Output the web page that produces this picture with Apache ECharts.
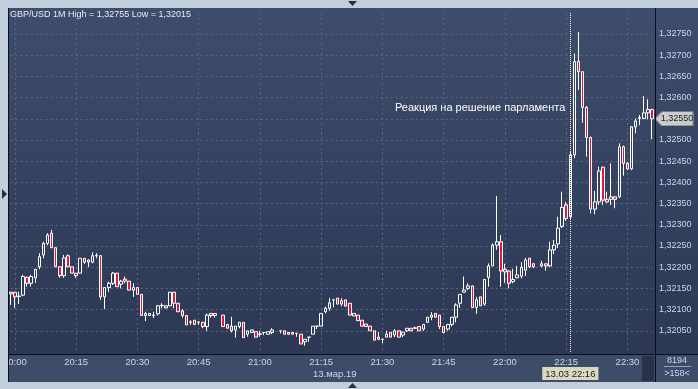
<!DOCTYPE html>
<html><head><meta charset="utf-8">
<script src="https://cdn.jsdelivr.net/npm/echarts@6/dist/echarts.min.js"></script>
<style>html,body{margin:0;padding:0;background:#c3cedc}#c{width:698px;height:389px}</style>
</head><body><div id="c"></div>
<script>
// ---- data ----
const times = [
'19:59',
'20:00','20:01','20:02','20:03','20:04','20:05','20:06','20:07','20:08','20:09',
'20:10','20:11','20:12','20:13','20:14','20:15','20:16','20:17','20:18','20:19',
'20:20','20:21','20:22','20:23','20:24','20:25','20:26','20:27','20:28','20:29',
'20:30','20:31','20:32','20:33','20:34','20:35','20:36','20:37','20:38','20:39',
'20:40','20:41','20:42','20:43','20:44','20:45','20:46','20:47','20:48','20:49',
'20:50','20:51','20:52','20:53','20:54','20:55','20:56','20:57','20:58','20:59',
'21:00','21:01','21:02','21:03','21:04','21:05','21:06','21:07','21:08','21:09',
'21:10','21:11','21:12','21:13','21:14','21:15','21:16','21:17','21:18','21:19',
'21:20','21:21','21:22','21:23','21:24','21:25','21:26','21:27','21:28','21:29',
'21:30','21:31','21:32','21:33','21:34','21:35','21:36','21:37','21:38','21:39',
'21:40','21:41','21:42','21:43','21:44','21:45','21:46','21:47','21:48','21:49',
'21:50','21:51','21:52','21:53','21:54','21:55','21:56','21:57','21:58','21:59',
'22:00','22:01','22:02','22:03','22:04','22:05','22:06','22:07','22:08','22:09',
'22:10','22:11','22:12','22:13','22:14','22:15','22:16','22:17','22:18','22:19',
'22:20','22:21','22:22','22:23','22:24','22:25','22:26','22:27','22:28','22:29',
'22:30','22:31','22:32','22:33','22:34','22:35','22:36'
];
const tickLabels = ['20:00','20:15','20:30','20:45','21:00','21:15','21:30','21:45','22:00','22:15','22:30'];
// [open, close, low, high]; null = no bar
const ohlc = [
[1.32137,1.32141,1.32111,1.32142],
[1.32141,1.32130,1.32104,1.32142],[1.32131,1.32132,1.32113,1.32142],[1.32134,1.32178,1.32132,1.32182],
[1.32176,1.32162,1.32154,1.32178],[1.32162,1.32178,1.32154,1.32182],[1.32175,1.32195,1.32163,1.32196],
[1.32201,1.32225,1.32195,1.32233],[1.32229,1.32256,1.32221,1.32260],[1.32256,1.32276,1.32252,1.32280],
[1.32280,1.32246,1.32245,1.32288],[1.32246,1.32201,1.32200,1.32247],[1.32201,1.32180,1.32175,1.32201],
[1.32180,1.32222,1.32175,1.32229],[1.32227,1.32201,1.32200,1.32230],[1.32201,1.32186,1.32186,1.32201],
[1.32186,1.32180,1.32175,1.32186],[1.32186,1.32221,1.32186,1.32221],[1.32221,1.32212,1.32208,1.32221],
[1.32217,1.32212,1.32200,1.32218],[1.32212,1.32227,1.32209,1.32235],[1.32227,1.32228,1.32221,1.32233],
[1.32227,1.32130,1.32123,1.32228],[1.32130,1.32152,1.32101,1.32152],[1.32152,1.32162,1.32142,1.32166],
[1.32162,1.32186,1.32158,1.32189],[1.32186,1.32154,1.32154,1.32186],[1.32160,1.32167,1.32150,1.32170],
[1.32172,1.32167,1.32162,1.32178],[1.32167,1.32146,1.32146,1.32167],[1.32146,1.32152,1.32130,1.32162],
[1.32152,1.32136,1.32136,1.32152],[1.32136,1.32086,1.32086,1.32136],[1.32086,1.32091,1.32073,1.32095],
[1.32091,1.32086,1.32086,1.32091],[1.32086,1.32087,1.32080,1.32095],[1.32090,1.32109,1.32086,1.32111],
[1.32109,1.32110,1.32103,1.32115],[1.32109,1.32104,1.32103,1.32110],[1.32109,1.32141,1.32109,1.32141],
[1.32141,1.32115,1.32103,1.32141],[1.32115,1.32095,1.32095,1.32115],[1.32097,1.32086,1.32081,1.32101],
[1.32086,1.32064,1.32064,1.32086],[1.32070,1.32071,1.32064,1.32075],[1.32075,1.32065,1.32065,1.32075],
[1.32071,1.32070,1.32064,1.32071],[1.32070,1.32060,1.32056,1.32070],[1.32060,1.32087,1.32050,1.32091],
[1.32091,1.32086,1.32081,1.32091],[1.32091,1.32086,1.32081,1.32091],null,
[1.32087,1.32060,1.32060,1.32087],[1.32065,1.32056,1.32056,1.32065],[1.32061,1.32050,1.32046,1.32083],
[1.32052,1.32061,1.32034,1.32061],[1.32060,1.32070,1.32056,1.32070],[1.32070,1.32034,1.32034,1.32070],
[1.32042,1.32050,1.32036,1.32050],[1.32046,1.32052,1.32046,1.32053],[1.32048,1.32035,1.32035,1.32048],
[1.32042,1.32043,1.32036,1.32050],[1.32046,1.32046,1.32040,1.32046],[1.32042,1.32048,1.32042,1.32048],
[1.32046,1.32052,1.32042,1.32056],null,[1.32050,1.32050,1.32044,1.32050],
[1.32050,1.32042,1.32042,1.32050],[1.32046,1.32042,1.32041,1.32046],[1.32046,1.32042,1.32041,1.32046],
[1.32044,1.32044,1.32036,1.32044],[1.32042,1.32019,1.32019,1.32042],[1.32024,1.32030,1.32015,1.32030],
[1.32035,1.32035,1.32024,1.32035],[1.32042,1.32061,1.32042,1.32061],[1.32061,1.32061,1.32054,1.32061],
[1.32061,1.32091,1.32061,1.32091],[1.32095,1.32103,1.32091,1.32107],[1.32103,1.32116,1.32097,1.32127],
[1.32123,1.32123,1.32105,1.32123],[1.32127,1.32113,1.32113,1.32127],[1.32121,1.32113,1.32108,1.32127],
[1.32123,1.32108,1.32108,1.32123],[1.32115,1.32087,1.32087,1.32115],[1.32085,1.32091,1.32085,1.32091],
[1.32087,1.32074,1.32074,1.32087],[1.32075,1.32061,1.32061,1.32075],[1.32066,1.32060,1.32060,1.32066],
[1.32061,1.32050,1.32050,1.32061],[1.32050,1.32028,1.32028,1.32050],[1.32035,1.32030,1.32028,1.32047],
[1.32030,1.32030,1.32021,1.32030],[1.32035,1.32042,1.32035,1.32050],[1.32046,1.32035,1.32035,1.32046],
[1.32040,1.32050,1.32035,1.32054],[1.32050,1.32035,1.32035,1.32050],[1.32040,1.32047,1.32035,1.32047],
[1.32050,1.32056,1.32047,1.32056],[1.32056,1.32050,1.32050,1.32056],[1.32056,1.32057,1.32054,1.32060],
[1.32060,1.32050,1.32050,1.32060],[1.32054,1.32065,1.32050,1.32065],[1.32070,1.32082,1.32069,1.32083],
[1.32082,1.32087,1.32075,1.32094],[1.32091,1.32082,1.32082,1.32091],[1.32087,1.32060,1.32054,1.32087],
[1.32060,1.32046,1.32046,1.32060],[1.32054,1.32065,1.32050,1.32065],[1.32065,1.32082,1.32060,1.32082],
[1.32082,1.32111,1.32070,1.32115],[1.32115,1.32136,1.32104,1.32136],[1.32141,1.32146,1.32141,1.32178],
[1.32150,1.32156,1.32146,1.32162],[1.32156,1.32105,1.32105,1.32156],[1.32105,1.32123,1.32090,1.32130],
[1.32130,1.32109,1.32109,1.32130],[1.32113,1.32171,1.32109,1.32171],[1.32176,1.32203,1.32154,1.32209],
[1.32203,1.32252,1.32203,1.32256],[1.32252,1.32260,1.32241,1.32368],[1.32260,1.32191,1.32154,1.32276],
[1.32195,1.32189,1.32163,1.32208],[1.32191,1.32162,1.32150,1.32193],[1.32166,1.32171,1.32162,1.32196],
[1.32175,1.32182,1.32174,1.32203],[1.32179,1.32200,1.32174,1.32212],[1.32193,1.32217,1.32179,1.32222],
[1.32221,1.32201,1.32198,1.32222],[1.32208,1.32201,1.32198,1.32210],null,
[1.32208,1.32203,1.32200,1.32215],[1.32208,1.32203,1.32192,1.32209],[1.32203,1.32241,1.32200,1.32260],
[1.32241,1.32252,1.32231,1.32264],[1.32255,1.32292,1.32245,1.32319],[1.32296,1.32341,1.32292,1.32378],
[1.32347,1.32315,1.32309,1.32354],[1.32319,1.32465,1.32311,1.32472],[1.32465,1.32685,1.32457,1.32704],
[1.32685,1.32661,1.32618,1.32755],[1.32661,1.32577,1.32541,1.32662],[1.32577,1.32506,1.32461,1.32580],
[1.32506,1.32337,1.32327,1.32508],[1.32337,1.32354,1.32325,1.32380],[1.32354,1.32427,1.32347,1.32437],
[1.32436,1.32358,1.32347,1.32437],[1.32360,1.32354,1.32352,1.32378],[1.32360,1.32366,1.32347,1.32445],
[1.32366,1.32360,1.32339,1.32367],[1.32366,1.32484,1.32363,1.32492],[1.32484,1.32445,1.32416,1.32487],
[1.32445,1.32432,1.32429,1.32448],[1.32432,1.32531,1.32429,1.32533],[1.32531,1.32545,1.32516,1.32551],
[1.32551,1.32553,1.32535,1.32559],[1.32551,1.32564,1.32549,1.32604],[1.32564,1.32572,1.32549,1.32596],
[1.32572,1.32550,1.32502,1.32574]
];
const crossTime = '22:16';
const crossLabel = '13.03 22:16';
const lastPrice = 1.32550;
const titleText = 'GBP/USD 1M High = 1,32755 Low = 1,32015';
const noteText = 'Реакция на решение парламента';
const dateText = '13.мар.19';
const yMin = 1.32000, yMax = 1.32800, yStep = 0.0005;

// ---- chart ----
const FF = '"Liberation Sans", Arial, sans-serif';
const fmt = v => v.toFixed(5).replace('.', ',');
const isTick = (i, v) => tickLabels.indexOf(v) >= 0;
const gridLine = { color: '#586884', type: [2, 3], width: 1 };
const lblColor = '#c6d8f0';
const chart = echarts.init(document.getElementById('c'), null, { renderer: 'canvas' });
chart.setOption({
  animation: false,
  backgroundColor: '#c3cedc',
  grid: { left: 8, right: 46, top: 12.8, bottom: 37 },
  xAxis: {
    type: 'category', data: times, boundaryGap: false,
    axisLine: { show: false }, axisTick: { show: false },
    axisLabel: { interval: isTick, color: lblColor, fontSize: 9.5, fontFamily: FF, margin: 5 },
    splitLine: { show: true, interval: isTick, lineStyle: gridLine }
  },
  yAxis: {
    type: 'value', position: 'right', min: yMin, max: yMax, interval: yStep,
    axisLine: { show: false }, axisTick: { show: false },
    axisLabel: { color: lblColor, fontSize: 9, fontFamily: FF, margin: 7, formatter: fmt, showMinLabel: false, showMaxLabel: false },
    splitLine: { show: true, lineStyle: gridLine, showMinLine: false, showMaxLine: false }
  },
  series: [{
    type: 'candlestick',
    data: ohlc.map(r => r ? r : ['-', '-', '-', '-']),
    barWidth: 3, clip: false, silent: true,
    itemStyle: { color: 'rgba(0,0,0,0)', color0: '#e3163d', borderColor: '#ffffff', borderColor0: '#ffffff', borderColorDoji: '#ffffff', borderWidth: 1 },
    markLine: {
      silent: true, animation: false, symbol: ['none', 'none'],
      lineStyle: { color: '#ffffff', type: [1, 1], width: 1 },
      label: { show: true, position: 'start', formatter: crossLabel, distance: 15, color: '#1b1b1b', backgroundColor: '#d8d8c0', padding: [2, 3, 1, 3], fontSize: 9.5, fontFamily: FF },
      emphasis: { disabled: true },
      data: [{ xAxis: crossTime }]
    },
    markPoint: {
      silent: true, animation: false,
      symbol: 'path://M0,7L7,0L40,0L40,14L7,14Z', symbolSize: [38, 14], symbolOffset: [22, 0],
      itemStyle: { color: '#cccccc', borderColor: '#8a8a8a', borderWidth: 1 },
      label: { show: true, formatter: fmt(lastPrice), color: '#1e1e1e', fontSize: 9, fontFamily: FF, offset: [3, 0] },
      data: [{ coord: [times[times.length - 1], lastPrice] }]
    }
  }],
  graphic: [
    { type: 'rect', z: -10, shape: { x: 8, y: 8, width: 690, height: 346 },
      style: { fill: new echarts.graphic.LinearGradient(0, 0, 0, 1, [{ offset: 0, color: '#3e4d6b' }, { offset: 1, color: '#2c3854' }]) } },
    { type: 'rect', z: -10, shape: { x: 8, y: 354, width: 690, height: 28 }, style: { fill: '#3d4c69' } },
    { type: 'rect', z: -9, shape: { x: 642, y: 356, width: 12, height: 25 }, style: { fill: '#27324a' } },
    { type: 'rect', z: 19, shape: { x: 0, y: 0, width: 8, height: 389 }, style: { fill: '#c3cedc' } },
    { type: 'rect', z: 19, shape: { x: 0, y: 382, width: 698, height: 7 }, style: { fill: '#c3cedc' } },
    { type: 'line', z: 20, shape: { x1: 8.5, y1: 8, x2: 8.5, y2: 382 }, style: { stroke: '#0a0e16', lineWidth: 1 } },
    { type: 'line', z: 20, shape: { x1: 655.5, y1: 8, x2: 655.5, y2: 382 }, style: { stroke: '#0a0e16', lineWidth: 1 } },
    { type: 'line', z: 20, shape: { x1: 8, y1: 354.5, x2: 698, y2: 354.5 }, style: { stroke: '#0a0e16', lineWidth: 1 } },
    { type: 'line', z: 20, shape: { x1: 664, y1: 366.5, x2: 691, y2: 366.5 }, style: { stroke: '#8fa2bf', lineWidth: 1 } },
    { type: 'polygon', z: 20, shape: { points: [[348, 1], [357, 1], [352.5, 6]] }, style: { fill: '#27303f' } },
    { type: 'polygon', z: 20, shape: { points: [[348, 388], [357, 388], [352.5, 383]] }, style: { fill: '#27303f' } },
    { type: 'polygon', z: 20, shape: { points: [[2, 189], [2, 199], [7, 194]] }, style: { fill: '#27303f' } },
    { type: 'text', z: 20, style: { text: titleText, x: 10, y: 15, font: '9px ' + FF, fill: '#e6ecf5', textVerticalAlign: 'middle' } },
    { type: 'text', z: 20, style: { text: noteText, x: 395, y: 108, font: '11px ' + FF, fill: '#ffffff', textVerticalAlign: 'middle' } },
    { type: 'text', z: 20, style: { text: dateText, x: 313, y: 374, font: '9.5px ' + FF, fill: lblColor, textVerticalAlign: 'middle' } },
    { type: 'text', z: 20, style: { text: '8194', x: 677, y: 361, font: '9px ' + FF, fill: lblColor, textAlign: 'center', textVerticalAlign: 'middle' } },
    { type: 'text', z: 20, style: { text: '>158<', x: 677, y: 374, font: '9px ' + FF, fill: lblColor, textAlign: 'center', textVerticalAlign: 'middle' } }
  ]
});
</script></body></html>
